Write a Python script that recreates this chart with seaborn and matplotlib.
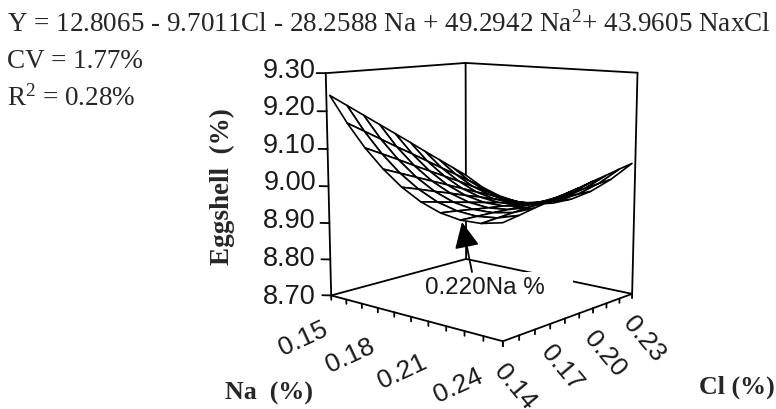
import numpy as np
import matplotlib
matplotlib.use('Agg')
import matplotlib.pyplot as plt
from matplotlib.patches import Rectangle
import seaborn as sns

na_levels = [0.15, 0.16, 0.17, 0.18, 0.19, 0.20, 0.21, 0.22, 0.23, 0.24]
cl_levels = [0.14, 0.15, 0.16, 0.17, 0.18, 0.19, 0.20, 0.21, 0.22, 0.23]
eggshell = [
    [9.242, 9.211, 9.180, 9.149, 9.118, 9.087, 9.055, 9.024, 8.993, 8.962],
    [9.174, 9.147, 9.120, 9.093, 9.067, 9.040, 9.013, 8.987, 8.960, 8.933],
    [9.115, 9.093, 9.071, 9.048, 9.026, 9.004, 8.982, 8.959, 8.937, 8.915],
    [9.067, 9.049, 9.031, 9.013, 8.995, 8.977, 8.959, 8.942, 8.924, 8.906],
    [9.028, 9.015, 9.001, 8.988, 8.974, 8.961, 8.947, 8.934, 8.920, 8.907],
    [8.999, 8.990, 8.981, 8.972, 8.963, 8.954, 8.945, 8.936, 8.927, 8.918],
    [8.980, 8.976, 8.971, 8.966, 8.962, 8.957, 8.952, 8.947, 8.943, 8.938],
    [8.971, 8.971, 8.971, 8.970, 8.970, 8.970, 8.969, 8.969, 8.969, 8.968],
    [8.972, 8.976, 8.980, 8.984, 8.988, 8.993, 8.997, 9.001, 9.005, 9.009],
    [8.983, 8.991, 9.000, 9.008, 9.017, 9.025, 9.034, 9.042, 9.051, 9.059],
]
z_ticks = [8.70, 8.80, 8.90, 9.00, 9.10, 9.20, 9.30]
na_labels = ['0.15', '0.18', '0.21', '0.24']
cl_labels = ['0.14', '0.17', '0.20', '0.23']

AZIM = -49
ELEV = 10

sns.set_theme(style='white')
plt.rcParams['font.family'] = ['Liberation Sans', 'DejaVu Sans']
plt.rcParams['mathtext.fontset'] = 'custom'
plt.rcParams['mathtext.rm'] = 'Liberation Serif'
plt.rcParams['mathtext.default'] = 'regular'

fig = plt.figure(figsize=(7.76, 4.10), dpi=100)
fig.patch.set_facecolor('white')

# 3d part, the square axes sits around the box
ax = fig.add_axes([(476.5 - 205) / 776, 0.031, 410 / 776, 1.0], projection='3d')
ax.computed_zorder = False
ax.set_proj_type('persp', focal_length=0.5)
ax.view_init(elev=ELEV, azim=AZIM)
ax.set_box_aspect((1.04, 0.94, 1.03), zoom=0.9)
ax.set_axis_off()
ax.patch.set_alpha(0)

# box is a little wider than the surface
x0, x1 = na_levels[0] - 0.001, na_levels[-1] + 0.001
y0, y1 = cl_levels[0] - 0.001, cl_levels[-1] + 0.001
z0, z1 = z_ticks[0], z_ticks[-1]


def edge(a, b):
    ax.plot([a[0], b[0]], [a[1], b[1]], [a[2], b[2]], color='black', lw=1.3, clip_on=False, zorder=2)


# floor
edge((x0, y0, z0), (x1, y0, z0))
edge((x1, y0, z0), (x1, y1, z0))
edge((x1, y1, z0), (x0, y1, z0))
edge((x0, y1, z0), (x0, y0, z0))
# back walls
edge((x0, y0, z0), (x0, y0, z1))
edge((x0, y1, z0), (x0, y1, z1))
edge((x1, y1, z0), (x1, y1, z1))
edge((x0, y0, z1), (x0, y1, z1))
edge((x0, y1, z1), (x1, y1, z1))

# ticks
dx = 0.003
for z in z_ticks:
    edge((x0, y0, z), (x0 - dx, y0 - dx * 0.8, z))
for na in np.linspace(x0, x1, 11):
    edge((na, y0, z0), (na, y0, z0 - 0.012))
for cl in np.linspace(y0, y1, 10):
    edge((x1, cl, z0), (x1, cl, z0 - 0.012))

ax.set_xlim(x0, x1)
ax.set_ylim(y0, y1)
ax.set_zlim(z0, z1)

X, Y = np.meshgrid(na_levels, cl_levels, indexing='ij')
ax.plot_surface(X, Y, np.array(eggshell), color='white', edgecolor='black', linewidth=1.2,
                shade=False, rstride=1, cstride=1, zorder=5)

# flat overlay in pixels for the text and the arrow
top = fig.add_axes([0, 0, 1, 1], facecolor='none')
top.set_xlim(0, 776)
top.set_ylim(410, 0)
top.axis('off')

serif = ['Liberation Serif', 'DejaVu Serif']
top.text(7, 32, 'Y = 12.8065 - 9.7011Cl - 28.2588 Na + 49.2942 Na$^{2}$+ 43.9605 NaxCl',
         family=serif, fontsize=19.5, ha='left', va='baseline')
top.text(7, 68, 'CV = 1.77%', family=serif, fontsize=19.5, ha='left', va='baseline')
top.text(7, 106, 'R$^{2}$ = 0.28%', family=serif, fontsize=19.5, ha='left', va='baseline')

z_label_y = [297, 259, 221, 183, 146, 108, 71]
for z, py in zip(z_ticks, z_label_y):
    top.text(316, py, '%.2f' % z, fontsize=19.5, ha='right', va='center', color='#1a1a1a')

for text, px, py in zip(na_labels, [303, 350, 402, 458], [339, 356, 372, 386]):
    top.text(px, py, text, fontsize=19, rotation=25, ha='center', va='center', color='#1a1a1a')
for text, px, py in zip(cl_labels, [515, 562, 605, 644], [387, 368, 354, 339]):
    top.text(px, py, text, fontsize=19, rotation=-50, ha='center', va='center', color='#1a1a1a')

top.text(269, 393, 'Na  (%)', family=serif, fontsize=18.7, fontweight='bold', ha='center', va='center')
top.text(737, 387, 'Cl (%)', family=serif, fontsize=18.7, fontweight='bold', ha='center', va='center')
top.text(222, 187, 'Eggshell  (%)', family=serif, fontsize=19.5, fontweight='bold', rotation=90,
         ha='center', va='center')

# label box hides part of the floor line
top.add_patch(Rectangle((425, 273), 148, 24, facecolor='white', edgecolor='none', zorder=3))
top.annotate('', xy=(462, 223), xytext=(472, 273),
             arrowprops=dict(arrowstyle='-|>,head_length=0.8,head_width=0.38', color='black', lw=1.3,
                             mutation_scale=20, shrinkA=0, shrinkB=0), zorder=4)
top.text(485, 288, '0.220Na %', fontsize=17.4, ha='center', va='center', color='#1a1a1a', zorder=5)

fig.savefig('out.png', dpi=100)
